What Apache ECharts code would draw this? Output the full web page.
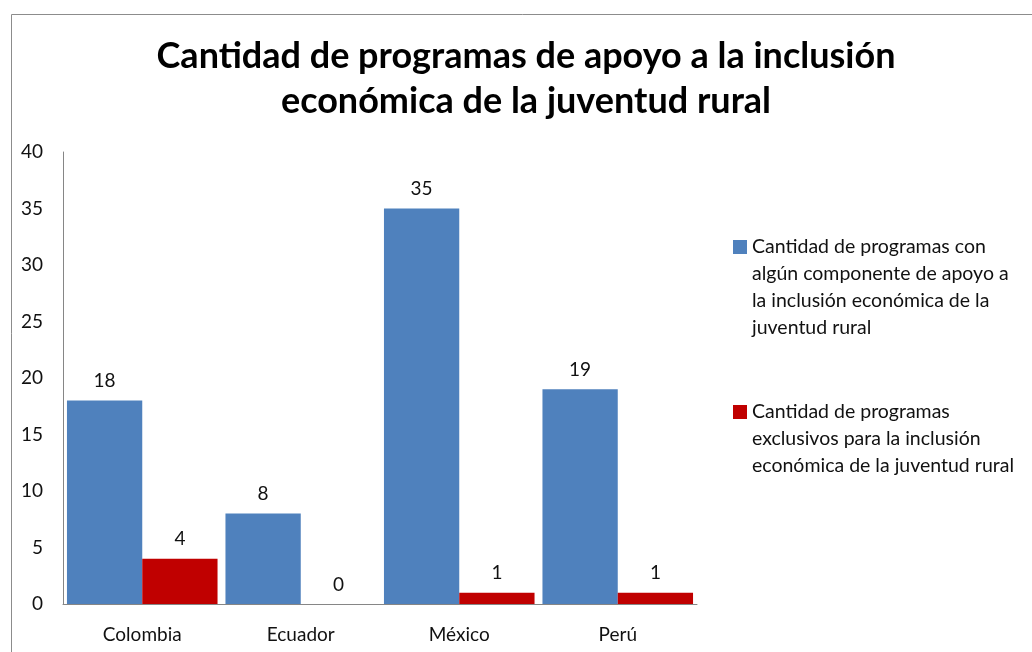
<!DOCTYPE html>
<html>
<head>
<meta charset="utf-8">
<script src="https://cdn.jsdelivr.net/npm/echarts@6/dist/echarts.min.js"></script>
<style>html,body{margin:0;padding:0;background:#fff}#c{width:1032px;height:652px}</style>
</head>
<body>
<div id="c"></div>
<script>
const titleText = 'Cantidad de programas de apoyo a la inclusión\neconómica de la juventud rural';
const categories = ['Colombia', 'Ecuador', 'México', 'Perú'];
const seriesNames = [
  'Cantidad de programas con\nalgún componente de apoyo a\nla inclusión económica de la\njuventud rural',
  'Cantidad de programas\nexclusivos para la inclusión\neconómica de la juventud rural'
];
const valuesAlgun = [18, 8, 35, 19];
const valuesExclusivos = [4, 0, 1, 1];
const yTicks = [0, 5, 10, 15, 20, 25, 30, 35, 40];

const FONT = 'Lato, "Open Sans", sans-serif';
const LH = 27;
const SQ = 14;
const chart = echarts.init(document.getElementById('c'));
function legendFor(i, top) {
  const n = seriesNames[i].split('\n').length;
  // tall icon box so that the square sits beside the first text line
  const h = SQ + (n - 1) * LH;
  return {
    data: [seriesNames[i]],
    left: 728, top: top, orient: 'vertical',
    icon: 'path://M0,0L' + SQ + ',0L' + SQ + ',' + SQ + 'L0,' + SQ + 'Z M0,' + h + 'L0,' + (h - 0.01) + 'Z',
    itemWidth: SQ, itemHeight: h, itemGap: 0,
    selectedMode: false,
    textStyle: { fontFamily: FONT, fontSize: 19.5, color: '#111', lineHeight: LH }
  };
}
chart.setOption({
  animation: false,
  title: {
    text: titleText, left: 521, top: 29, textAlign: 'center',
    textStyle: { fontFamily: FONT, fontSize: 36, fontWeight: 'bold', color: '#000', lineHeight: 45 }
  },
  legend: [legendFor(0, 228.5), legendFor(1, 393.5)],
  graphic: [{
    type: 'rect', left: 9, top: 12, silent: true,
    shape: { width: 1100, height: 800 },
    style: { fill: 'none', stroke: '#8c8c8c', lineWidth: 1 }
  }],
  grid: { left: 63, right: 335, top: 152, bottom: 48 },
  xAxis: {
    type: 'category', data: categories,
    axisLine: { lineStyle: { color: '#868686', width: 1 } },
    axisTick: { show: false },
    axisLabel: { fontFamily: FONT, fontSize: 19, color: '#111', margin: 21 }
  },
  yAxis: {
    type: 'value', min: 0, max: 40, interval: 5,
    axisLine: { show: true, lineStyle: { color: '#868686', width: 1 } },
    axisTick: { show: false },
    splitLine: { show: false },
    axisLabel: { fontFamily: FONT, fontSize: 19, color: '#111', margin: 20,
      formatter: v => yTicks.includes(v) ? String(v) : '' }
  },
  series: [
    { name: seriesNames[0], type: 'bar', data: valuesAlgun, barGap: '0%', barCategoryGap: '5%',
      itemStyle: { color: '#4F81BD' },
      label: { show: true, position: 'top', distance: 10, fontFamily: FONT, fontSize: 19, color: '#111' } },
    { name: seriesNames[1], type: 'bar', data: valuesExclusivos, barGap: '0%', barCategoryGap: '5%',
      itemStyle: { color: '#C00000' },
      label: { show: true, position: 'top', distance: 10, fontFamily: FONT, fontSize: 19, color: '#111' } }
  ]
});
</script>
</body>
</html>
